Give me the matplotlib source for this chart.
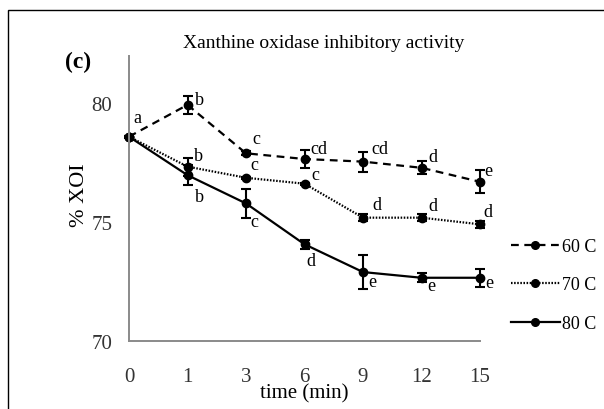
# Bibliothèque utilisée pour tracer le graphique.
import matplotlib.pyplot as plt
from matplotlib.patches import Rectangle
from matplotlib.lines import Line2D


# ==========================================================
# 1. DONNÉES
# ==========================================================

# Temps de traitement (min), affichés comme catégories.
temps = ["0", "1", "3", "6", "9", "12", "15"]

# Activité inhibitrice de la xanthine oxydase (% XOI).
xoi_60 = [78.59, 79.93, 77.89, 77.65, 77.54, 77.28, 76.69]
xoi_70 = [78.59, 77.33, 76.86, 76.61, 75.18, 75.18, 74.90]
xoi_80 = [78.59, 76.97, 75.78, 74.06, 72.89, 72.65, 72.65]

# Écarts-types.
err_60 = [0.05, 0.37, 0.08, 0.37, 0.42, 0.28, 0.49]
err_70 = [0.05, 0.38, 0.05, 0.05, 0.15, 0.15, 0.15]
err_80 = [0.05, 0.42, 0.61, 0.18, 0.73, 0.18, 0.39]

# Lettres de significativité.
lettres_60 = ["a", "b", "c", "cd", "cd", "d", "e"]
lettres_70 = ["", "b", "c", "c", "d", "d", "d"]
lettres_80 = ["", "b", "c", "d", "e", "e", "e"]

etiquettes = ["60 C", "70 C", "80 C"]


# ==========================================================
# 2. MISE EN FORME
# ==========================================================

# Décalage des lettres par rapport au point (pixels).
decalage_60 = [(8, 19), (12, 5), (10, 15), (14, 11), (17, 13), (11, 11), (8, 11)]
decalage_70 = [(0, 0), (11, 11), (8, 13), (11, 9), (14, 13), (11, 12), (8, 13)]
decalage_80 = [(0, 0), (12, -21), (8, -18), (6, -16), (9, -9), (10, -8), (9, -5)]

plt.rcParams["font.family"] = ["Liberation Serif", "DejaVu Serif"]

fig = plt.figure(figsize=(6.04, 4.10), dpi=100)
ax = fig.add_axes([129 / 604, 1 - 341.7 / 410, 351 / 604, 285 / 410])

# Cadre autour de la figure (bords droit et bas hors image).
fig.patches.append(
    Rectangle((8 / 604, -0.1), 1.2, 1.1 - 11 / 410,
              transform=fig.transFigure, fill=False,
              edgecolor="black", linewidth=1.0)
)

x = list(range(len(temps)))

series = [
    (xoi_60, err_60, lettres_60, decalage_60, (0, (3.5, 2.5))),
    (xoi_70, err_70, lettres_70, decalage_70, (0, (0.7, 0.7))),
    (xoi_80, err_80, lettres_80, decalage_80, "-"),
]

poignees = []

for (valeurs, erreurs, lettres, decalages, style), nom in zip(series, etiquettes):

    ax.errorbar(
        x,
        valeurs,
        yerr=erreurs,
        color="black",
        linestyle=style,
        linewidth=1.6,
        marker="o",
        markersize=6,
        capsize=3.5,
        elinewidth=1.5,
        capthick=1.5,
        clip_on=False
    )

    # Poignée de légende sans barre d'erreur.
    poignees.append(
        Line2D([], [], color="black", linestyle=style, linewidth=1.6,
               marker="o", markersize=5.5, label=nom)
    )

    for xi, yi, lettre, (dx, dy) in zip(x, valeurs, lettres, decalages):
        if lettre:
            ax.annotate(
                lettre,
                (xi, yi),
                xytext=(dx * 0.72, dy * 0.72),
                textcoords="offset points",
                ha="center",
                va="center",
                fontsize=13
            )

ax.set_xlim(0, len(temps) - 1)
ax.set_ylim(70, 82)
ax.set_xticks(x)
ax.set_xticklabels(temps)
ax.set_yticks([70, 75, 80])

ax.tick_params(axis="both", length=0, labelsize=15, colors="#333333")
ax.tick_params(axis="x", pad=19)
ax.tick_params(axis="y", pad=12)

for cote in ["top", "right"]:
    ax.spines[cote].set_visible(False)
for cote in ["left", "bottom"]:
    ax.spines[cote].set_color("#8a8a8a")
    ax.spines[cote].set_linewidth(1.4)

ax.set_xlabel("time (min)", fontsize=15, labelpad=-2)
ax.set_ylabel("% XOI", fontsize=16)
ax.yaxis.set_label_coords(-0.115, 0.515)

fig.text(324 / 604, 1 - 43 / 410, "Xanthine oxidase inhibitory activity",
         ha="center", va="center", fontsize=14)
fig.text(78 / 604, 1 - 62 / 410, "(c)", ha="center", va="center",
         fontsize=17, fontweight="bold")

ax.legend(
    handles=poignees,
    loc="center left",
    bbox_to_anchor=(502 / 604, 1 - 286 / 410),
    bbox_transform=fig.transFigure,
    frameon=False,
    fontsize=13,
    borderpad=0,
    handlelength=2.7,
    handletextpad=0.15,
    labelspacing=1.2
)

fig.savefig("out.png", dpi=100)
